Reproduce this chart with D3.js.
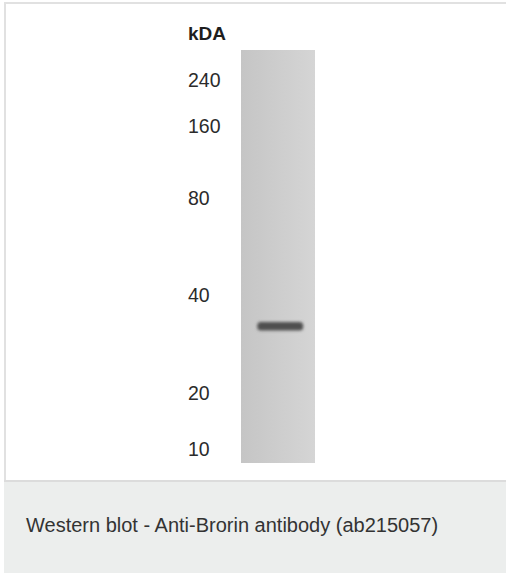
<!DOCTYPE html>
<html>
<head>
<meta charset="utf-8">
<script src="https://cdn.jsdelivr.net/npm/d3@7"></script>
<style>
  html, body { margin: 0; padding: 0; background: #ffffff; }
  svg { display: block; }
</style>
</head>
<body>
<div id="chart"></div>
<script>
// Marker ladder (kDa) and relative mobility (fraction of lane length)
const markerLabels = ["240", "160", "80", "40", "20", "10"];
const markerRf = [0.073, 0.185, 0.360, 0.594, 0.831, 0.966];
// Detected band(s): relative mobility and intensity (0..1)
const bandRf = [0.669];
const bandIntensity = [0.85];
const unitLabel = "kDA";
const caption = "Western blot - Anti-Brorin antibody (ab215057)";

const W = 506, H = 574;
const svg = d3.select("#chart").append("svg")
  .attr("width", W).attr("height", H);

const defs = svg.append("defs");
const lg = defs.append("linearGradient").attr("id", "laneGrad")
  .attr("x1", "0%").attr("x2", "100%").attr("y1", "0%").attr("y2", "0%");
[[0, "#c5c5c5"], [0.25, "#c9c9c9"], [0.5, "#cdcdcd"], [0.75, "#d1d1d1"], [1, "#d5d5d5"]]
  .forEach(([o, c]) => lg.append("stop").attr("offset", o).attr("stop-color", c));
const blur = defs.append("filter").attr("id", "bandBlur")
  .attr("x", "-20%").attr("y", "-100%").attr("width", "140%").attr("height", "300%");
blur.append("feGaussianBlur").attr("stdDeviation", "1.6 1.4");

// Frame
svg.append("rect").attr("x", 5).attr("y", 3).attr("width", W + 10).attr("height", 478)
  .attr("fill", "#ffffff").attr("stroke", "#e1e1e1").attr("stroke-width", 2);
// Caption panel
svg.append("rect").attr("x", 4).attr("y", 481).attr("width", W).attr("height", 92)
  .attr("fill", "#eceeed");
svg.append("line").attr("x1", 4).attr("x2", W).attr("y1", 481).attr("y2", 481)
  .attr("stroke", "#dcdcdc").attr("stroke-width", 2);

// Lane geometry via scales
const laneTop = 50, laneBottom = 463, laneLeft = 241, laneRight = 315;
const y = d3.scaleLinear().domain([0, 1]).range([laneTop, laneBottom]);
const xLane = d3.scaleLinear().domain([0, 1]).range([laneLeft, laneRight]);

svg.append("rect")
  .attr("x", xLane(0)).attr("y", y(0))
  .attr("width", xLane(1) - xLane(0)).attr("height", y(1) - y(0))
  .attr("fill", "url(#laneGrad)");

// Bands
const bandColor = d3.scaleLinear().domain([0, 1]).range(["#cccccc", "#3a3a3a"]);
svg.append("g").selectAll("rect").data(bandRf).join("rect")
  .attr("x", xLane(0.22)).attr("width", xLane(0.84) - xLane(0.22))
  .attr("y", d => y(d) - 4.2).attr("height", 8.4)
  .attr("rx", 3.5)
  .attr("fill", (d, i) => bandColor(bandIntensity[i]))
  .attr("filter", "url(#bandBlur)");

// Marker labels
const fontFam = "'Liberation Sans', Arial, Helvetica, sans-serif";
svg.append("g").selectAll("text").data(markerLabels).join("text")
  .attr("x", 188)
  .attr("y", (d, i) => y(markerRf[i]) + 6.8)
  .attr("font-family", fontFam)
  .attr("font-size", 19.5)
  .attr("fill", "#2b2b2b")
  .text(d => d);

svg.append("text")
  .attr("x", 188).attr("y", 39.5)
  .attr("font-family", fontFam)
  .attr("font-size", 19)
  .attr("font-weight", "bold")
  .attr("fill", "#1e1e1e")
  .text(unitLabel);

// Caption
svg.append("text")
  .attr("x", 26).attr("y", 532)
  .attr("font-family", fontFam)
  .attr("font-size", 20)
  .attr("fill", "#333333")
  .text(caption);
</script>
</body>
</html>
